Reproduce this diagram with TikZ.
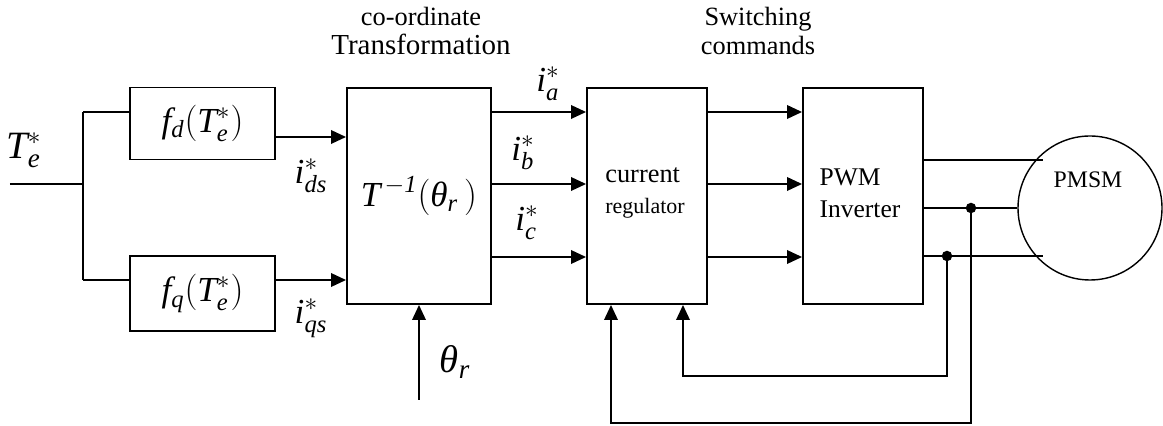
\documentclass[tikz,border=0pt]{standalone}
\usepackage{fontspec}
\setmainfont{Liberation Serif}
\usetikzlibrary{arrows.meta}
\newcommand{\ist}[2]{\mathit{#1}_{\mathit{#2}}^{*}}
\newcommand{\thr}{\mbox{\itshape θ}_{\mathit{r}}}

\begin{document}
\begin{tikzpicture} [blk/.style= {draw,line width=1.1pt,inner sep=0}, wire/.style= {line width=1.1pt}, arr/.style= {-{Triangle[length=0.3cm,width=0.27cm]}}, jn/.style= {circle,fill=black,minimum size=0.21cm,inner sep=0}, lbl/.style= {inner sep=0,font=\fontsize{20}{22}\selectfont}, txt/.style= {inner sep=0,font=\fontsize{15}{29}\selectfont,align=center}]
\useasboundingbox (0,0) rectangle (23.26,8.52);

\node[blk,minimum width=2.9cm,minimum height=1.44cm,lbl] (fd) at (4.05,6.05) {$\mathit{f}_{\mathit{d}}\Bigl(\ist{T}{e}\Bigr)$};
\node[blk,minimum width=2.9cm,minimum height=1.5cm,lbl] (fq) at (4.05,2.65) {$\mathit{f}_{\mathit{q}}\Bigl(\ist{T}{e}\Bigr)$};
\node[blk,minimum width=2.88cm,minimum height=4.32cm,lbl] (tinv) at (8.38,4.6) {$\mathit{T}^{\,-\mathit{1}}\bigl(\thr\,\bigr)$};
\node[blk,minimum width=2.4cm,minimum height=4.32cm] (creg) at (12.94,4.6) {};
\node[blk,minimum width=2.4cm,minimum height=4.32cm] (pwm) at (17.26,4.6) {};
\node[draw,circle,line width=0.8pt,minimum size=2.88cm,inner sep=0] (pmsm) at (21.8,4.36) {};

\node[txt,align=left] (cregtxt) at (12.9,4.66) {current\\[-11pt]{\fontsize{12.5}{14}\selectfont regulator}};
\node[txt,align=left,font=\fontsize{14.5}{29}\selectfont] (pwmtxt) at (17.2,4.66) {PWM\\[-11pt]Inverter};
\node[txt,font=\fontsize{13.5}{16}\selectfont] (pmsmtxt) at (21.76,4.92) {PMSM};
\node[txt] (cotr) at (8.42,7.9) {co-ordinate\\[-12pt]{\fontsize{16.5}{18}\selectfont Transformation}};
\node[txt] (swc) at (15.16,7.9) {Switching\\[-12pt]commands};

\node[lbl,font=\fontsize{22}{24}\selectfont] (te) at (0.48,5.52) {$\ist{T}{e}$};
\node[lbl] (ids) at (6.22,5.0) {$\ist{i}{ds}$};
\node[lbl] (iqs) at (6.22,2.16) {$\ist{i}{qs}$};
\node[lbl] (ia) at (10.96,6.84) {$\ist{i}{a}$};
\node[lbl] (ib) at (10.46,5.46) {$\ist{i}{b}$};
\node[lbl] (ic) at (10.54,4.06) {$\ist{i}{c}$};
\node[lbl,font=\fontsize{22}{24}\selectfont] (th) at (9.1,1.28) {$\thr$};

\coordinate (in) at (0.2,4.84);
\coordinate (br) at (1.66,4.84);
\coordinate (bru) at (1.66,6.28);
\coordinate (brd) at (1.66,2.92);
\draw[wire] (in) -- (br);
\draw[wire] (bru) -- (brd);
\draw[wire] (bru) -- (bru -| fd.west);
\draw[wire] (brd) -- (brd -| fq.west);
\draw[wire,arr] ([yshift=-0.27cm]fd.east) -- ([yshift=-0.27cm]fd.east -| tinv.west);
\draw[wire,arr] ([yshift=0.27cm]fq.east) -- ([yshift=0.27cm]fq.east -| tinv.west);

\foreach \dy in {1.68,0.24,-1.22}{%
  \draw[wire,arr] ([yshift=\dy cm]tinv.east) -- ([yshift=\dy cm]tinv.east -| creg.west);
  \draw[wire,arr] ([yshift=\dy cm]creg.east) -- ([yshift=\dy cm]creg.east -| pwm.west);}

\coordinate (m1) at (20.86,5.32);
\coordinate (m3) at (20.86,3.4);
\draw[wire] (m1 -| pwm.east) -- (m1);
\draw[wire] (pmsm.west -| pwm.east) -- (pmsm.west);
\draw[wire] (m3 -| pwm.east) -- (m3);

\node[jn] (j1) at (19.42,4.36) {};
\node[jn] (j2) at (18.94,3.4) {};
\coordinate (fb1) at (13.66,1.0);
\coordinate (fb2) at (12.22,0.06);
\draw[wire,arr] (j2.center) |- (fb1) -- (fb1 |- creg.south);
\draw[wire,arr] (j1.center) |- (fb2) -- (fb2 |- creg.south);

\coordinate (thin) at (8.38,0.52);
\draw[wire,arr] (thin) -- (thin |- tinv.south);
\end{tikzpicture}
\end{document}
